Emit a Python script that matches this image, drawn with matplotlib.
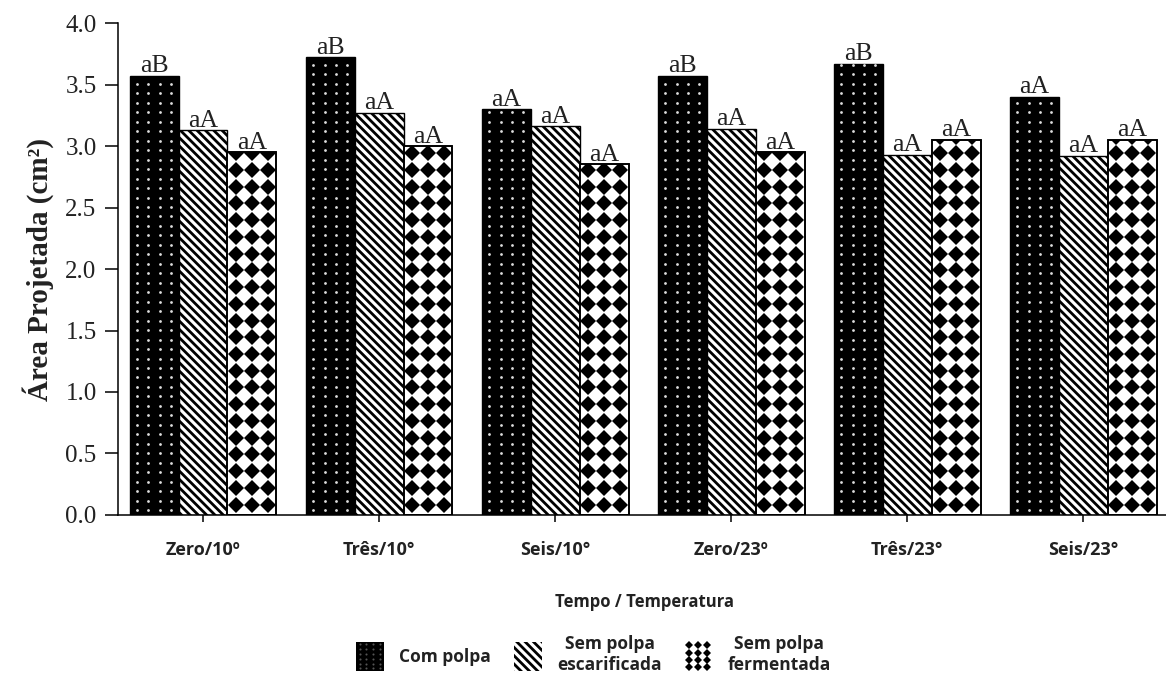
import numpy as np
import matplotlib
matplotlib.use("Agg")
import matplotlib.pyplot as plt
from matplotlib.patches import Rectangle
from matplotlib.lines import Line2D
from matplotlib.legend_handler import HandlerBase

# ---- data ----
categories = ["Zero/10º", "Três/10°", "Seis/10°", "Zero/23º", "Três/23°", "Seis/23°"]
series_names = ["Com polpa", "Sem polpa\nescarificada", "Sem polpa\nfermentada"]
com_polpa = [3.57, 3.72, 3.30, 3.57, 3.67, 3.40]
sem_escarificada = [3.13, 3.27, 3.16, 3.14, 2.93, 2.92]
sem_fermentada = [2.95, 3.00, 2.85, 2.95, 3.05, 3.05]
labels_com = ["aB", "aB", "aA", "aB", "aB", "aA"]
labels_esc = ["aA", "aA", "aA", "aA", "aA", "aA"]
labels_fer = ["aA", "aA", "aA", "aA", "aA", "aA"]
yticks = [0.0, 0.5, 1.0, 1.5, 2.0, 2.5, 3.0, 3.5, 4.0]

plt.rcParams['hatch.linewidth'] = 2.0
SERIF = ['Liberation Serif', 'DejaVu Serif']
SANS = ['Open Sans', 'DejaVu Sans']

fig = plt.figure(figsize=(11.66, 6.77), dpi=100)
ax = fig.add_axes([0.1012, 0.2393, 0.8988, 0.7267])

x = np.arange(len(categories))
w = 0.278
offsets = [-w, 0, w]

# pattern geometry (data units)
dot_dx, dot_dy = 0.064, 0.077
dia_dx, dia_dy = 0.091, 0.136

def add_grid_markers(bar, dx, dy, ncols, y0, marker, color, ms):
    bx, by = bar.get_x(), bar.get_y()
    bw, bh = bar.get_width(), bar.get_height()
    cx = bx + bw / 2
    cols = cx + (np.arange(ncols) - (ncols - 1) / 2) * dx
    rows = np.arange(by + y0, by + bh + dy, dy)
    X, Y = np.meshgrid(cols, rows)
    ln, = ax.plot(X.ravel(), Y.ravel(), ls='none', marker=marker, ms=ms,
                  mfc=color, mec=color, mew=0, zorder=3)
    ln.set_clip_path(bar)

# series 1: black with white dots
bars1 = ax.bar(x + offsets[0], com_polpa, w, color='black', edgecolor='black', lw=1.0, zorder=2)
for b in bars1:
    add_grid_markers(b, dot_dx, dot_dy, 4, 0.04, 'o', '#dddddd', 2.0)

# series 2: white with diagonal lines
bars2 = ax.bar(x + offsets[1], sem_escarificada, w, facecolor='white', edgecolor='black',
               hatch='\\\\\\\\', lw=1.0, zorder=2)

# series 3: white with black diamonds
bars3 = ax.bar(x + offsets[2], sem_fermentada, w, facecolor='white', edgecolor='black', lw=1.2, zorder=2)
for b in bars3:
    add_grid_markers(b, dia_dx, dia_dy, 3, 0.085, 'D', 'black', 8.2)
for b in bars3:
    ax.add_patch(Rectangle((b.get_x(), b.get_y()), b.get_width(), b.get_height(),
                           facecolor='none', edgecolor='black', lw=1.2, zorder=4))

for bars, labs in ((bars1, labels_com), (bars2, labels_esc), (bars3, labels_fer)):
    for b, lab in zip(bars, labs):
        ax.annotate(lab, (b.get_x() + b.get_width() / 2, b.get_height()),
                    xytext=(0, 2.5), textcoords='offset points', ha='center', va='baseline',
                    family=SERIF, fontsize=18.5, color='#222222', zorder=5)

ax.set_xlim(-0.483, 5.47)
ax.set_ylim(0, 4.0)
ax.set_yticks(yticks)
ax.set_yticklabels([f"{v:.1f}" for v in yticks], family=SERIF, fontsize=18, color='#222222')
ax.set_xticks(x)
ax.set_xticklabels(categories, family=SANS, fontsize=13, fontweight='bold', color='#222222')
ax.tick_params(axis='y', direction='out', length=9.4, width=1.1, pad=6)
ax.tick_params(axis='x', direction='out', length=5, width=1.1, pad=14)
for s in ('top', 'right'):
    ax.spines[s].set_visible(False)
for s in ('left', 'bottom'):
    ax.spines[s].set_linewidth(1.1)
ax.set_ylabel("Área Projetada (cm²)", family=SERIF, fontsize=21, fontweight='bold',
              color='#222222', labelpad=8)

fig.text(0.553, 0.111, "Tempo / Temperatura", family=SANS, fontsize=12, fontweight='bold',
         ha='center', va='center', color='#222222')

# legend with custom pattern handles
class GridHandler(HandlerBase):
    def __init__(self, face, edge, hatch, marker, mcolor, ms, nx, ny):
        super().__init__()
        self.face, self.edge, self.hatch = face, edge, hatch
        self.marker, self.mcolor, self.ms, self.nx, self.ny = marker, mcolor, ms, nx, ny

    def create_artists(self, legend, orig_handle, xdescent, ydescent, width, height, fontsize, trans):
        arts = []
        r = Rectangle((-xdescent, -ydescent), width, height, facecolor=self.face,
                      edgecolor=self.edge, hatch=self.hatch, lw=0, transform=trans)
        arts.append(r)
        if self.marker:
            xs = -xdescent + (np.arange(self.nx) + 0.5) * width / self.nx
            ys = -ydescent + (np.arange(self.ny) + 0.5) * height / self.ny
            X, Y = np.meshgrid(xs, ys)
            ln = Line2D(X.ravel(), Y.ravel(), ls='none', marker=self.marker, ms=self.ms,
                        mfc=self.mcolor, mec=self.mcolor, mew=0, transform=trans)
            arts.append(ln)
        return arts

class H1: pass
class H2: pass
class H3: pass
hs = [H1(), H2(), H3()]
hmap = {
    H1: GridHandler('black', 'black', None, 'o', '#555555', 1.5, 4, 6),
    H2: GridHandler('white', 'black', '\\\\\\\\', None, None, 0, 0, 0),
    H3: GridHandler('white', 'white', None, 'D', 'black', 4.5, 3, 4),
}
leg = fig.legend(hs, series_names, handler_map=hmap, loc='center',
                 bbox_to_anchor=(0.509, 0.033), ncol=3, frameon=False,
                 prop={'family': SANS, 'size': 12.5, 'weight': 'bold'},
                 handlelength=1.6, handleheight=2.2, handletextpad=0.9, columnspacing=1.3)
for t in leg.get_texts():
    t.set_multialignment('center')
    t.set_color('#222222')

fig.savefig("out.png", dpi=100)
